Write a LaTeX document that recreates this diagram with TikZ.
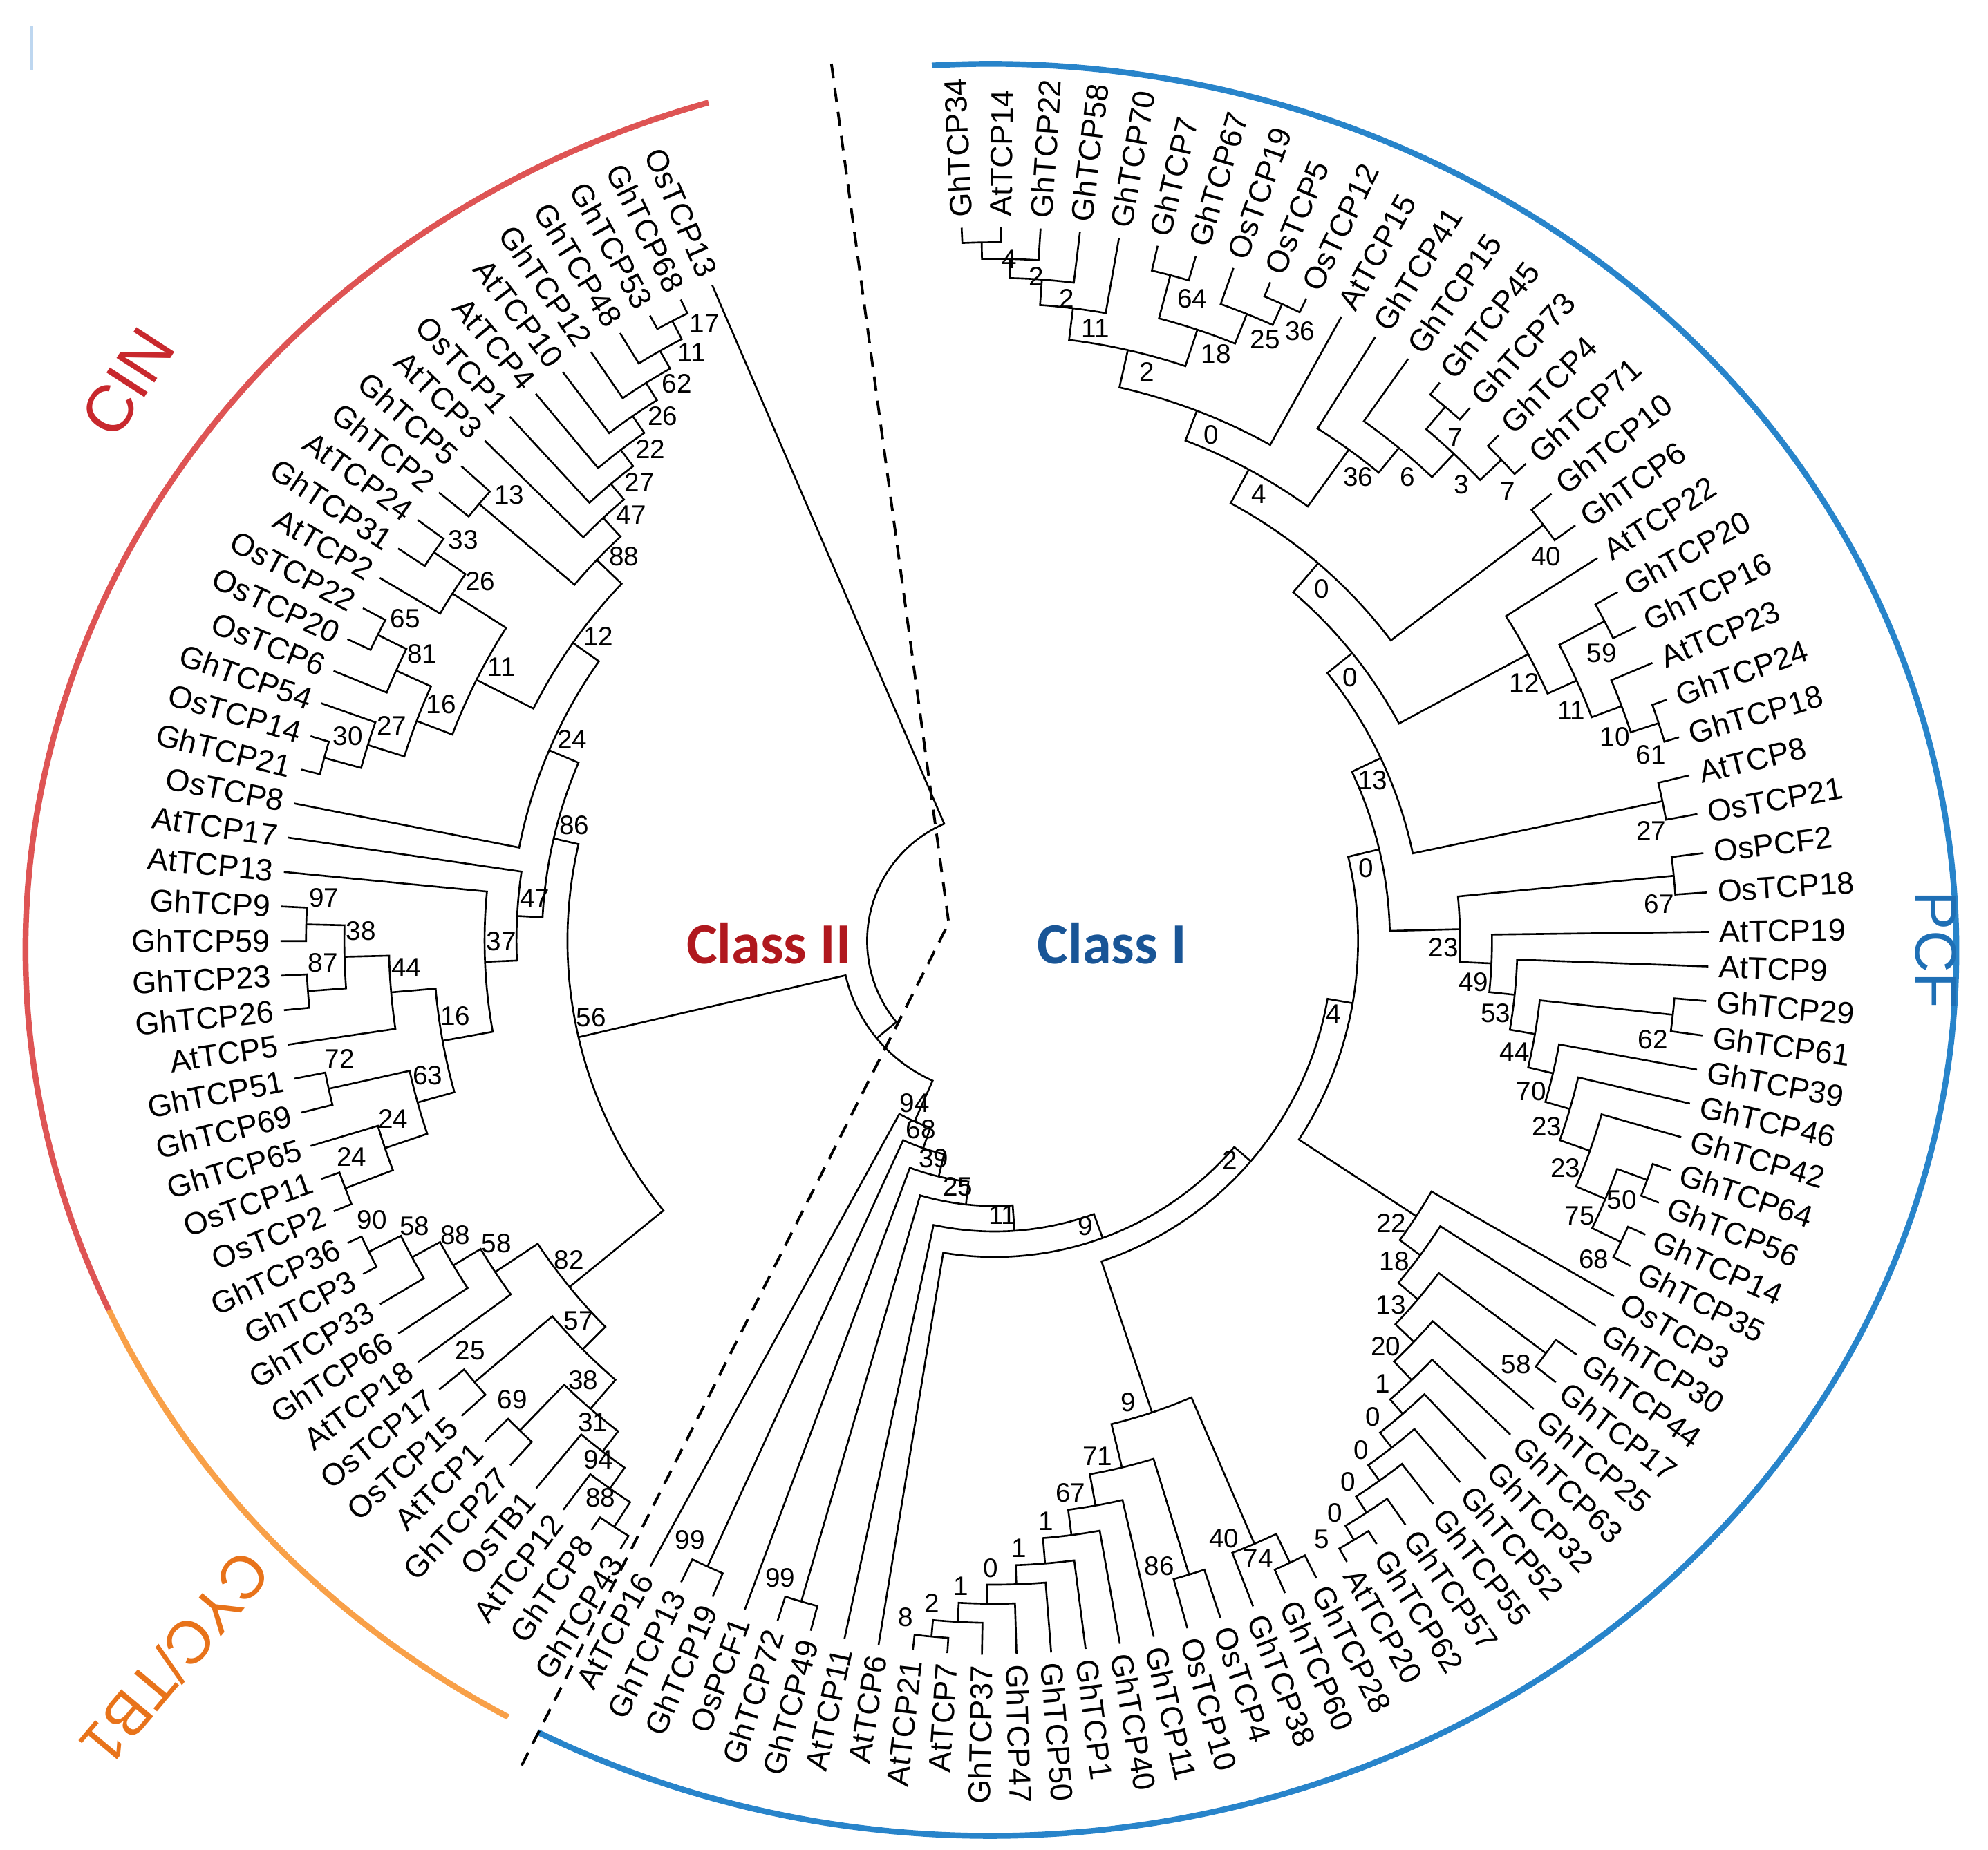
\documentclass[tikz,border=0pt]{standalone}
\usepackage{fontspec}
\setmainfont{Liberation Sans}
\newfontfamily\clsfont{Carlito}
\def\tku{0.52495}
\tikzset{br/.style={line width=0.75pt,black},
  lfl/.style={inner sep=0pt,font=\fontsize{12.8}{14}\selectfont},
  bsl/.style={inner sep=0pt,font=\fontsize{11}{12}\selectfont},
  grp/.style={line width=2.4pt}}
\newcommand\tlf[2]{%
  \pgfmathsetmacro\tkang{ifthenelse(#1<=90,113.3+(#1-1)*2.78,360.72+(#1-90)*3.17)}%
  \expandafter\xdef\csname tA#1\endcsname{\tkang}%
  \expandafter\xdef\csname tR#1\endcsname{560}%
  \pgfmathtruncatemacro\tkflip{(\tkang>90)&&(\tkang<270)}%
  \pgfmathsetmacro\tkrl{568*\tku}%
  \ifnum\tkflip=1
    \pgfmathsetmacro\tkrot{\tkang-180}%
    \node[lfl,anchor=east,rotate=\tkrot] (L#1) at (\tkang:\tkrl pt) {#2};
  \else
    \node[lfl,anchor=west,rotate=\tkang] (L#1) at (\tkang:\tkrl pt) {#2};
  \fi}
\newcommand\tcl[5]{%
  \pgfmathsetmacro\tkA{\csname tA#3\endcsname}%
  \pgfmathsetmacro\tkB{\csname tA#4\endcsname}%
  \pgfmathsetmacro\tkRa{\csname tR#3\endcsname*\tku}%
  \pgfmathsetmacro\tkRb{\csname tR#4\endcsname*\tku}%
  \pgfmathsetmacro\tkR{#2*\tku}%
  \pgfmathsetmacro\tkM{(\tkA+\tkB)/2}%
  \draw[br] (\tkA:\tkRa pt) -- (\tkA:\tkR pt) arc[start angle=\tkA, end angle=\tkB, radius=\tkR pt] -- (\tkB:\tkRb pt);
  \expandafter\xdef\csname tA#1\endcsname{\tkM}%
  \expandafter\xdef\csname tR#1\endcsname{#2}%
  \pgfmathsetmacro\tkLa{\tkM-2.3}%
  \pgfmathsetmacro\tkLr{(#2-13)*\tku}%
  \node[bsl] (N#1) at (\tkLa:\tkLr pt) {#5};}
\begin{document}
\begin{tikzpicture}[x=0.52495pt,y=0.52495pt]
\useasboundingbox (0,0) rectangle (1559,1451);
\fill[white] (0,0) rectangle (1559,1451);
\draw[line width=1pt,color={rgb,255:red,190;green,215;blue,240}] (25,1396) -- (25,1431);
% group arcs
\begin{scope}[shift={(777,706)}]
\draw[grp,color={rgb,255:red,222;green,84;blue,84}] (107:397.4pt and 364.8pt) arc[start angle=107,end angle=204,x radius=397.4pt,y radius=364.8pt];
\draw[grp,color={rgb,255:red,248;green,160;blue,72}] (204:397.4pt and 364.8pt) arc[start angle=204,end angle=240,x radius=397.4pt,y radius=364.8pt];
\draw[grp,color={rgb,255:red,40;green,132;blue,202}] (242:397.4pt and 364.8pt) arc[start angle=242,end angle=453.5,x radius=397.4pt,y radius=364.8pt];
\end{scope}
\node[rotate=57,text={rgb,255:red,200;green,40;blue,45},font=\fontsize{27}{30}\selectfont] (cin) at (100,1151) {CIN};
\node[rotate=230,text={rgb,255:red,232;green,115;blue,26},font=\fontsize{25}{28}\selectfont] (cyc) at (138,150) {CYC/TB1};
\node[rotate=-90,text={rgb,255:red,31;green,111;blue,181},font=\fontsize{24}{28}\selectfont] (pcf) at (1518,706) {PCF};
\node[text={rgb,255:red,176;green,24;blue,30},font=\clsfont\bfseries\fontsize{24}{28}\selectfont] (c2) at (603,711) {Class II};
\node[text={rgb,255:red,25;green,85;blue,150},font=\clsfont\bfseries\fontsize{24}{28}\selectfont] (c1) at (872,711) {Class I};
\coordinate (d1) at (652,1401); \coordinate (d2) at (744,727); \coordinate (d3) at (408,64);
\draw[line width=1.1pt,dash pattern=on 6pt off 4pt] (d1) -- (d2) -- (d3);
\begin{scope}[shift={(780,713)}]
\tlf{1}{OsTCP13}\tlf{2}{GhTCP68}\tlf{3}{GhTCP53}\tlf{4}{GhTCP48}\tlf{5}{GhTCP12}\tlf{6}{AtTCP10}\tlf{7}{AtTCP4}\tlf{8}{OsTCP1}\tlf{9}{AtTCP3}\tlf{10}{GhTCP5}
\tlf{11}{GhTCP2}\tlf{12}{AtTCP24}\tlf{13}{GhTCP31}\tlf{14}{AtTCP2}\tlf{15}{OsTCP22}\tlf{16}{OsTCP20}\tlf{17}{OsTCP6}\tlf{18}{GhTCP54}\tlf{19}{OsTCP14}\tlf{20}{GhTCP21}
\tlf{21}{OsTCP8}\tlf{22}{AtTCP17}\tlf{23}{AtTCP13}\tlf{24}{GhTCP9}\tlf{25}{GhTCP59}\tlf{26}{GhTCP23}\tlf{27}{GhTCP26}\tlf{28}{AtTCP5}\tlf{29}{GhTCP51}\tlf{30}{GhTCP69}
\tlf{31}{GhTCP65}\tlf{32}{OsTCP11}\tlf{33}{OsTCP2}\tlf{34}{GhTCP36}\tlf{35}{GhTCP3}\tlf{36}{GhTCP33}\tlf{37}{GhTCP66}\tlf{38}{AtTCP18}\tlf{39}{OsTCP17}\tlf{40}{OsTCP15}
\tlf{41}{AtTCP1}\tlf{42}{GhTCP27}\tlf{43}{OsTB1}\tlf{44}{AtTCP12}\tlf{45}{GhTCP8}\tlf{46}{GhTCP43}\tlf{47}{AtTCP16}\tlf{48}{GhTCP13}\tlf{49}{GhTCP19}\tlf{50}{OsPCF1}
\tlf{51}{GhTCP72}\tlf{52}{GhTCP49}\tlf{53}{AtTCP11}\tlf{54}{AtTCP6}\tlf{55}{AtTCP21}\tlf{56}{AtTCP7}\tlf{57}{GhTCP37}\tlf{58}{GhTCP47}\tlf{59}{GhTCP50}\tlf{60}{GhTCP1}
\tlf{61}{GhTCP40}\tlf{62}{GhTCP11}\tlf{63}{OsTCP10}\tlf{64}{OsTCP4}\tlf{65}{GhTCP38}\tlf{66}{GhTCP60}\tlf{67}{GhTCP28}\tlf{68}{AtTCP20}\tlf{69}{GhTCP62}\tlf{70}{GhTCP57}
\tlf{71}{GhTCP55}\tlf{72}{GhTCP52}\tlf{73}{GhTCP32}\tlf{74}{GhTCP63}\tlf{75}{GhTCP25}\tlf{76}{GhTCP17}\tlf{77}{GhTCP44}\tlf{78}{GhTCP30}\tlf{79}{OsTCP3}\tlf{80}{GhTCP35}
\tlf{81}{GhTCP14}\tlf{82}{GhTCP56}\tlf{83}{GhTCP64}\tlf{84}{GhTCP42}\tlf{85}{GhTCP46}\tlf{86}{GhTCP39}\tlf{87}{GhTCP61}\tlf{88}{GhTCP29}\tlf{89}{AtTCP9}\tlf{90}{AtTCP19}
\tlf{91}{OsTCP18}\tlf{92}{OsPCF2}\tlf{93}{OsTCP21}\tlf{94}{AtTCP8}\tlf{95}{GhTCP18}\tlf{96}{GhTCP24}\tlf{97}{AtTCP23}\tlf{98}{GhTCP16}\tlf{99}{GhTCP20}\tlf{100}{AtTCP22}
\tlf{101}{GhTCP6}\tlf{102}{GhTCP10}\tlf{103}{GhTCP71}\tlf{104}{GhTCP4}\tlf{105}{GhTCP73}\tlf{106}{GhTCP45}\tlf{107}{GhTCP15}\tlf{108}{GhTCP41}\tlf{109}{AtTCP15}\tlf{110}{OsTCP12}
\tlf{111}{OsTCP5}\tlf{112}{OsTCP19}\tlf{113}{GhTCP67}\tlf{114}{GhTCP7}\tlf{115}{GhTCP70}\tlf{116}{GhTCP58}\tlf{117}{GhTCP22}\tlf{118}{AtTCP14}\tlf{119}{GhTCP34}
% Class II
\tcl{aa}{548}{2}{3}{17}\tcl{ab}{532}{aa}{4}{11}\tcl{ac}{516}{ab}{5}{62}\tcl{ad}{500}{ac}{6}{26}
\tcl{ae}{484}{ad}{7}{22}\tcl{af}{468}{ae}{8}{27}\tcl{ag}{452}{af}{9}{47}\tcl{ah}{530}{10}{11}{13}
\tcl{ai}{432}{ag}{ah}{88}\tcl{aj}{535}{12}{13}{33}\tcl{ak}{505}{aj}{14}{26}\tcl{al}{540}{15}{16}{65}
\tcl{am}{515}{al}{17}{81}\tcl{an}{545}{19}{20}{30}\tcl{ao}{515}{18}{an}{27}\tcl{ap}{485}{am}{ao}{16}
\tcl{aq}{455}{ak}{ap}{11}\tcl{ar}{405}{ai}{aq}{12}\tcl{as}{380}{ar}{21}{24}
\tcl{at}{540}{24}{25}{97}\tcl{au}{540}{26}{27}{87}\tcl{av}{510}{at}{au}{38}\tcl{aw}{475}{av}{28}{44}
\tcl{ax}{535}{29}{30}{72}\tcl{ay}{545}{32}{33}{24}\tcl{az}{505}{31}{ay}{24}\tcl{ba}{470}{ax}{az}{63}
\tcl{bb}{440}{aw}{ba}{16}\tcl{bc}{400}{23}{bb}{37}\tcl{bd}{375}{22}{bc}{47}\tcl{be}{355}{as}{bd}{86}
\tcl{bf}{548}{34}{35}{90}\tcl{bg}{520}{bf}{36}{58}\tcl{bh}{495}{bg}{37}{88}\tcl{bi}{470}{bh}{38}{58}
\tcl{bj}{535}{39}{40}{25}\tcl{bk}{535}{41}{42}{69}\tcl{bl}{548}{45}{46}{88}\tcl{bm}{525}{44}{bl}{94}
\tcl{bn}{505}{43}{bm}{31}\tcl{bo}{485}{bk}{bn}{38}\tcl{bp}{455}{bj}{bo}{57}\tcl{bq}{430}{bi}{bp}{82}
\tcl{br}{335}{be}{bq}{56}
% Class I
\tcl{ca}{540}{48}{49}{99}\tcl{cb}{540}{51}{52}{99}
\tcl{cc}{548}{55}{56}{8}\tcl{cd}{535}{cc}{57}{2}\tcl{ce}{520}{cd}{58}{1}\tcl{cf}{505}{ce}{59}{0}
\tcl{cg}{490}{cf}{60}{1}\tcl{ch}{470}{cg}{61}{1}\tcl{ci}{450}{ch}{62}{67}\tcl{cj}{520}{63}{64}{86}
\tcl{ck}{425}{ci}{cj}{71}\tcl{cl}{540}{66}{67}{74}\tcl{cm}{515}{65}{cl}{40}\tcl{cn}{390}{ck}{cm}{9}
\tcl{da}{548}{68}{69}{5}\tcl{db}{535}{da}{70}{0}\tcl{dc}{520}{db}{71}{0}\tcl{dd}{505}{dc}{72}{0}
\tcl{de}{490}{dd}{73}{0}\tcl{df}{475}{de}{74}{1}\tcl{dg}{455}{df}{75}{20}\tcl{dh}{540}{76}{77}{58}
\tcl{di}{435}{dg}{dh}{13}\tcl{dj}{415}{di}{78}{18}\tcl{dk}{395}{dj}{79}{22}
\tcl{ea}{545}{80}{81}{68}\tcl{eb}{545}{82}{83}{50}\tcl{ec}{520}{ea}{eb}{75}\tcl{ed}{495}{ec}{84}{23}
\tcl{ee}{470}{ed}{85}{23}\tcl{ef}{450}{ee}{86}{70}\tcl{eg}{535}{87}{88}{62}\tcl{eh}{430}{ef}{eg}{44}
\tcl{ei}{410}{eh}{89}{53}\tcl{ej}{390}{ei}{90}{49}\tcl{fa}{535}{91}{92}{67}\tcl{fb}{365}{ej}{fa}{23}
\tcl{ga}{535}{93}{94}{27}\tcl{gb}{548}{95}{96}{61}\tcl{gc}{525}{gb}{97}{10}\tcl{gd}{540}{98}{99}{59}
\tcl{ge}{500}{gc}{gd}{11}\tcl{gf}{475}{ge}{100}{12}\tcl{gg}{540}{101}{102}{40}
\tcl{ha}{548}{103}{104}{7}\tcl{hb}{548}{105}{106}{7}\tcl{hc}{525}{ha}{hb}{3}\tcl{hd}{500}{hc}{107}{6}
\tcl{he}{475}{hd}{108}{36}
\tcl{ia}{548}{110}{111}{36}\tcl{ib}{530}{ia}{112}{25}\tcl{ic}{540}{113}{114}{64}\tcl{id}{505}{ic}{ib}{18}
\tcl{ja}{548}{118}{119}{4}\tcl{jb}{535}{117}{ja}{2}\tcl{jc}{520}{116}{jb}{2}\tcl{jd}{500}{115}{jc}{11}
\tcl{ie}{475}{id}{jd}{2}\tcl{if}{445}{109}{ie}{0}\tcl{hf}{420}{he}{if}{4}
\tcl{na}{390}{gg}{hf}{0}\tcl{nb}{360}{gf}{na}{0}\tcl{nc}{335}{ga}{nb}{13}\tcl{nd}{310}{fb}{nc}{0}
\tcl{ne}{285}{dk}{nd}{4}\tcl{nf}{265}{cn}{ne}{2}\tcl{ng}{248}{54}{nf}{9}\tcl{nh}{228}{53}{ng}{11}
\tcl{ni}{208}{cb}{nh}{25}\tcl{nj}{190}{50}{ni}{39}\tcl{nk}{172}{ca}{nj}{68}\tcl{nl}{155}{47}{nk}{94}
% root
\tcl{ra}{120}{br}{nl}{}\tcl{rb}{100}{1}{ra}{}
\end{scope}
\end{tikzpicture}
\end{document}
